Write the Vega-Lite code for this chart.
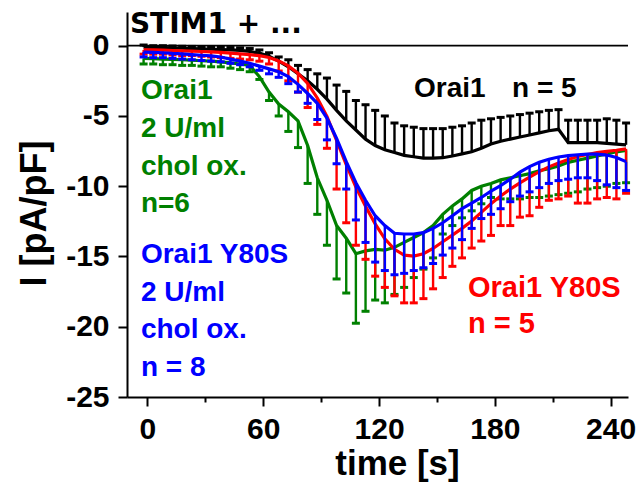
{
  "$schema": "https://vega.github.io/schema/vega-lite/v6.json",
  "width": 501,
  "height": 385,
  "autosize": {"type": "none"},
  "padding": {"left": 127, "top": 12, "right": 11, "bottom": 86},
  "background": "white",
  "config": {"view": {"stroke": null}, "font": "Liberation Sans"},
  "datasets": {
    "currents": [
      {"group":"Orai1","t":-2,"mean":-0.1,"bar_end":0.05},
      {"group":"Orai1","t":3,"mean":-0.12,"bar_end":0.0},
      {"group":"Orai1","t":8,"mean":-0.14,"bar_end":0.0},
      {"group":"Orai1","t":13,"mean":-0.15,"bar_end":-0.02},
      {"group":"Orai1","t":18,"mean":-0.18,"bar_end":-0.04},
      {"group":"Orai1","t":23,"mean":-0.2,"bar_end":-0.05},
      {"group":"Orai1","t":28,"mean":-0.23,"bar_end":-0.08},
      {"group":"Orai1","t":33,"mean":-0.25,"bar_end":-0.1},
      {"group":"Orai1","t":38,"mean":-0.28,"bar_end":-0.1},
      {"group":"Orai1","t":43,"mean":-0.3,"bar_end":-0.13},
      {"group":"Orai1","t":48,"mean":-0.33,"bar_end":-0.15},
      {"group":"Orai1","t":53,"mean":-0.4,"bar_end":-0.2},
      {"group":"Orai1","t":58,"mean":-0.53,"bar_end":-0.3},
      {"group":"Orai1","t":63,"mean":-0.75,"bar_end":-0.5},
      {"group":"Orai1","t":68,"mean":-1.1,"bar_end":-0.8},
      {"group":"Orai1","t":73,"mean":-1.5,"bar_end":-1.0},
      {"group":"Orai1","t":78,"mean":-2.0,"bar_end":-1.4},
      {"group":"Orai1","t":83,"mean":-2.5,"bar_end":-1.7},
      {"group":"Orai1","t":88,"mean":-3.1,"bar_end":-2.0},
      {"group":"Orai1","t":93,"mean":-3.8,"bar_end":-2.3},
      {"group":"Orai1","t":98,"mean":-4.6,"bar_end":-2.8},
      {"group":"Orai1","t":103,"mean":-5.35,"bar_end":-3.25},
      {"group":"Orai1","t":108,"mean":-6.0,"bar_end":-3.9},
      {"group":"Orai1","t":113,"mean":-6.65,"bar_end":-4.2},
      {"group":"Orai1","t":118,"mean":-7.1,"bar_end":-4.6},
      {"group":"Orai1","t":123,"mean":-7.4,"bar_end":-5.0},
      {"group":"Orai1","t":128,"mean":-7.6,"bar_end":-5.5},
      {"group":"Orai1","t":133,"mean":-7.8,"bar_end":-5.7},
      {"group":"Orai1","t":138,"mean":-7.9,"bar_end":-5.8},
      {"group":"Orai1","t":143,"mean":-8.0,"bar_end":-5.9},
      {"group":"Orai1","t":148,"mean":-8.0,"bar_end":-5.9},
      {"group":"Orai1","t":153,"mean":-7.97,"bar_end":-5.9},
      {"group":"Orai1","t":158,"mean":-7.85,"bar_end":-5.8},
      {"group":"Orai1","t":163,"mean":-7.7,"bar_end":-5.7},
      {"group":"Orai1","t":168,"mean":-7.55,"bar_end":-5.5},
      {"group":"Orai1","t":173,"mean":-7.3,"bar_end":-5.3},
      {"group":"Orai1","t":178,"mean":-7.0,"bar_end":-5.2},
      {"group":"Orai1","t":183,"mean":-6.8,"bar_end":-5.1},
      {"group":"Orai1","t":188,"mean":-6.65,"bar_end":-5.0},
      {"group":"Orai1","t":193,"mean":-6.5,"bar_end":-4.9},
      {"group":"Orai1","t":198,"mean":-6.35,"bar_end":-4.8},
      {"group":"Orai1","t":203,"mean":-6.2,"bar_end":-4.7},
      {"group":"Orai1","t":208,"mean":-6.05,"bar_end":-4.6},
      {"group":"Orai1","t":213,"mean":-5.95,"bar_end":-4.55},
      {"group":"Orai1","t":218,"mean":-6.9,"bar_end":-5.3},
      {"group":"Orai1","t":223,"mean":-6.9,"bar_end":-5.3},
      {"group":"Orai1","t":228,"mean":-6.9,"bar_end":-5.3},
      {"group":"Orai1","t":233,"mean":-6.9,"bar_end":-5.3},
      {"group":"Orai1","t":238,"mean":-6.95,"bar_end":-5.2},
      {"group":"Orai1","t":243,"mean":-7.0,"bar_end":-5.3},
      {"group":"Orai1","t":248,"mean":-7.05,"bar_end":-5.5},

      {"group":"Orai1 + chol ox.","t":-2,"mean":-0.9,"bar_end":-1.3},
      {"group":"Orai1 + chol ox.","t":3,"mean":-0.92,"bar_end":-1.3},
      {"group":"Orai1 + chol ox.","t":8,"mean":-0.95,"bar_end":-1.35},
      {"group":"Orai1 + chol ox.","t":13,"mean":-0.97,"bar_end":-1.35},
      {"group":"Orai1 + chol ox.","t":18,"mean":-1.0,"bar_end":-1.4},
      {"group":"Orai1 + chol ox.","t":23,"mean":-1.03,"bar_end":-1.4},
      {"group":"Orai1 + chol ox.","t":28,"mean":-1.07,"bar_end":-1.45},
      {"group":"Orai1 + chol ox.","t":33,"mean":-1.1,"bar_end":-1.5},
      {"group":"Orai1 + chol ox.","t":38,"mean":-1.15,"bar_end":-1.5},
      {"group":"Orai1 + chol ox.","t":43,"mean":-1.22,"bar_end":-1.6},
      {"group":"Orai1 + chol ox.","t":48,"mean":-1.3,"bar_end":-1.7},
      {"group":"Orai1 + chol ox.","t":53,"mean":-1.4,"bar_end":-1.85},
      {"group":"Orai1 + chol ox.","t":58,"mean":-2.2,"bar_end":-2.4},
      {"group":"Orai1 + chol ox.","t":63,"mean":-3.3,"bar_end":-3.9},
      {"group":"Orai1 + chol ox.","t":68,"mean":-4.15,"bar_end":-5.0},
      {"group":"Orai1 + chol ox.","t":73,"mean":-4.7,"bar_end":-6.1},
      {"group":"Orai1 + chol ox.","t":78,"mean":-5.35,"bar_end":-7.25},
      {"group":"Orai1 + chol ox.","t":83,"mean":-7.1,"bar_end":-9.8},
      {"group":"Orai1 + chol ox.","t":88,"mean":-9.4,"bar_end":-12.0},
      {"group":"Orai1 + chol ox.","t":93,"mean":-11.0,"bar_end":-14.2},
      {"group":"Orai1 + chol ox.","t":98,"mean":-12.8,"bar_end":-16.6},
      {"group":"Orai1 + chol ox.","t":103,"mean":-13.7,"bar_end":-17.6},
      {"group":"Orai1 + chol ox.","t":108,"mean":-14.8,"bar_end":-19.75},
      {"group":"Orai1 + chol ox.","t":113,"mean":-14.6,"bar_end":-18.9},
      {"group":"Orai1 + chol ox.","t":118,"mean":-14.5,"bar_end":-18.1},
      {"group":"Orai1 + chol ox.","t":123,"mean":-14.55,"bar_end":-18.3},
      {"group":"Orai1 + chol ox.","t":128,"mean":-14.35,"bar_end":-17.7},
      {"group":"Orai1 + chol ox.","t":133,"mean":-14.0,"bar_end":-17.2},
      {"group":"Orai1 + chol ox.","t":138,"mean":-13.65,"bar_end":-16.5},
      {"group":"Orai1 + chol ox.","t":143,"mean":-13.3,"bar_end":-15.9},
      {"group":"Orai1 + chol ox.","t":148,"mean":-12.8,"bar_end":-15.1},
      {"group":"Orai1 + chol ox.","t":153,"mean":-12.0,"bar_end":-13.4},
      {"group":"Orai1 + chol ox.","t":158,"mean":-11.4,"bar_end":-12.8},
      {"group":"Orai1 + chol ox.","t":163,"mean":-10.9,"bar_end":-12.25},
      {"group":"Orai1 + chol ox.","t":168,"mean":-10.3,"bar_end":-11.75},
      {"group":"Orai1 + chol ox.","t":173,"mean":-10.0,"bar_end":-11.25},
      {"group":"Orai1 + chol ox.","t":178,"mean":-9.8,"bar_end":-10.8},
      {"group":"Orai1 + chol ox.","t":183,"mean":-9.55,"bar_end":-10.9},
      {"group":"Orai1 + chol ox.","t":188,"mean":-9.4,"bar_end":-10.9},
      {"group":"Orai1 + chol ox.","t":193,"mean":-9.25,"bar_end":-10.9},
      {"group":"Orai1 + chol ox.","t":198,"mean":-9.1,"bar_end":-10.8},
      {"group":"Orai1 + chol ox.","t":203,"mean":-8.9,"bar_end":-10.8},
      {"group":"Orai1 + chol ox.","t":208,"mean":-8.75,"bar_end":-10.7},
      {"group":"Orai1 + chol ox.","t":213,"mean":-8.55,"bar_end":-10.6},
      {"group":"Orai1 + chol ox.","t":218,"mean":-8.3,"bar_end":-10.5},
      {"group":"Orai1 + chol ox.","t":223,"mean":-8.15,"bar_end":-10.4},
      {"group":"Orai1 + chol ox.","t":228,"mean":-8.0,"bar_end":-10.2},
      {"group":"Orai1 + chol ox.","t":233,"mean":-7.85,"bar_end":-10.1},
      {"group":"Orai1 + chol ox.","t":238,"mean":-7.7,"bar_end":-10.0},
      {"group":"Orai1 + chol ox.","t":243,"mean":-7.55,"bar_end":-9.8},
      {"group":"Orai1 + chol ox.","t":248,"mean":-7.45,"bar_end":-9.75},

      {"group":"Orai1 Y80S","t":-2,"mean":-0.3,"bar_end":-0.6},
      {"group":"Orai1 Y80S","t":3,"mean":-0.3,"bar_end":-0.6},
      {"group":"Orai1 Y80S","t":8,"mean":-0.31,"bar_end":-0.6},
      {"group":"Orai1 Y80S","t":13,"mean":-0.34,"bar_end":-0.65},
      {"group":"Orai1 Y80S","t":18,"mean":-0.37,"bar_end":-0.7},
      {"group":"Orai1 Y80S","t":23,"mean":-0.39,"bar_end":-0.7},
      {"group":"Orai1 Y80S","t":28,"mean":-0.41,"bar_end":-0.75},
      {"group":"Orai1 Y80S","t":33,"mean":-0.44,"bar_end":-0.8},
      {"group":"Orai1 Y80S","t":38,"mean":-0.48,"bar_end":-0.85},
      {"group":"Orai1 Y80S","t":43,"mean":-0.53,"bar_end":-0.9},
      {"group":"Orai1 Y80S","t":48,"mean":-0.58,"bar_end":-0.95},
      {"group":"Orai1 Y80S","t":53,"mean":-0.63,"bar_end":-1.0},
      {"group":"Orai1 Y80S","t":58,"mean":-0.71,"bar_end":-1.1},
      {"group":"Orai1 Y80S","t":63,"mean":-0.84,"bar_end":-1.3},
      {"group":"Orai1 Y80S","t":68,"mean":-1.08,"bar_end":-1.8},
      {"group":"Orai1 Y80S","t":73,"mean":-1.44,"bar_end":-2.5},
      {"group":"Orai1 Y80S","t":78,"mean":-1.96,"bar_end":-3.3},
      {"group":"Orai1 Y80S","t":83,"mean":-2.68,"bar_end":-4.4},
      {"group":"Orai1 Y80S","t":88,"mean":-3.72,"bar_end":-5.6},
      {"group":"Orai1 Y80S","t":93,"mean":-5.04,"bar_end":-7.3},
      {"group":"Orai1 Y80S","t":98,"mean":-6.74,"bar_end":-10.2},
      {"group":"Orai1 Y80S","t":103,"mean":-8.46,"bar_end":-12.6},
      {"group":"Orai1 Y80S","t":108,"mean":-10.06,"bar_end":-14.2},
      {"group":"Orai1 Y80S","t":113,"mean":-11.42,"bar_end":-15.2},
      {"group":"Orai1 Y80S","t":118,"mean":-12.68,"bar_end":-16.4},
      {"group":"Orai1 Y80S","t":123,"mean":-13.74,"bar_end":-17.2},
      {"group":"Orai1 Y80S","t":128,"mean":-14.49,"bar_end":-17.8},
      {"group":"Orai1 Y80S","t":133,"mean":-14.9,"bar_end":-18.3},
      {"group":"Orai1 Y80S","t":138,"mean":-14.97,"bar_end":-18.3},
      {"group":"Orai1 Y80S","t":143,"mean":-14.8,"bar_end":-18.0},
      {"group":"Orai1 Y80S","t":148,"mean":-14.43,"bar_end":-17.3},
      {"group":"Orai1 Y80S","t":153,"mean":-13.95,"bar_end":-16.5},
      {"group":"Orai1 Y80S","t":158,"mean":-13.48,"bar_end":-15.7},
      {"group":"Orai1 Y80S","t":163,"mean":-13.0,"bar_end":-15.1},
      {"group":"Orai1 Y80S","t":168,"mean":-12.47,"bar_end":-14.4},
      {"group":"Orai1 Y80S","t":173,"mean":-11.86,"bar_end":-13.9},
      {"group":"Orai1 Y80S","t":178,"mean":-11.24,"bar_end":-13.5},
      {"group":"Orai1 Y80S","t":183,"mean":-10.7,"bar_end":-12.8},
      {"group":"Orai1 Y80S","t":188,"mean":-10.2,"bar_end":-12.8},
      {"group":"Orai1 Y80S","t":193,"mean":-9.76,"bar_end":-12.2},
      {"group":"Orai1 Y80S","t":198,"mean":-9.36,"bar_end":-12.1},
      {"group":"Orai1 Y80S","t":203,"mean":-8.96,"bar_end":-11.5},
      {"group":"Orai1 Y80S","t":208,"mean":-8.62,"bar_end":-11.0},
      {"group":"Orai1 Y80S","t":213,"mean":-8.35,"bar_end":-10.9},
      {"group":"Orai1 Y80S","t":218,"mean":-8.1,"bar_end":-10.7},
      {"group":"Orai1 Y80S","t":223,"mean":-7.88,"bar_end":-11.2},
      {"group":"Orai1 Y80S","t":228,"mean":-7.74,"bar_end":-11.2},
      {"group":"Orai1 Y80S","t":233,"mean":-7.61,"bar_end":-10.9},
      {"group":"Orai1 Y80S","t":238,"mean":-7.52,"bar_end":-10.8},
      {"group":"Orai1 Y80S","t":243,"mean":-7.44,"bar_end":-10.9},
      {"group":"Orai1 Y80S","t":248,"mean":-7.34,"bar_end":-10.5},

      {"group":"Orai1 Y80S + chol ox.","t":-2,"mean":-0.45,"bar_end":-0.8},
      {"group":"Orai1 Y80S + chol ox.","t":3,"mean":-0.47,"bar_end":-0.85},
      {"group":"Orai1 Y80S + chol ox.","t":8,"mean":-0.5,"bar_end":-0.85},
      {"group":"Orai1 Y80S + chol ox.","t":13,"mean":-0.55,"bar_end":-0.9},
      {"group":"Orai1 Y80S + chol ox.","t":18,"mean":-0.58,"bar_end":-0.95},
      {"group":"Orai1 Y80S + chol ox.","t":23,"mean":-0.63,"bar_end":-1.0},
      {"group":"Orai1 Y80S + chol ox.","t":28,"mean":-0.68,"bar_end":-1.05},
      {"group":"Orai1 Y80S + chol ox.","t":33,"mean":-0.72,"bar_end":-1.1},
      {"group":"Orai1 Y80S + chol ox.","t":38,"mean":-0.8,"bar_end":-1.15},
      {"group":"Orai1 Y80S + chol ox.","t":43,"mean":-0.95,"bar_end":-1.25},
      {"group":"Orai1 Y80S + chol ox.","t":48,"mean":-1.1,"bar_end":-1.35},
      {"group":"Orai1 Y80S + chol ox.","t":53,"mean":-1.25,"bar_end":-1.5},
      {"group":"Orai1 Y80S + chol ox.","t":58,"mean":-1.45,"bar_end":-1.75},
      {"group":"Orai1 Y80S + chol ox.","t":63,"mean":-1.65,"bar_end":-2.0},
      {"group":"Orai1 Y80S + chol ox.","t":68,"mean":-1.85,"bar_end":-2.25},
      {"group":"Orai1 Y80S + chol ox.","t":73,"mean":-2.2,"bar_end":-2.7},
      {"group":"Orai1 Y80S + chol ox.","t":78,"mean":-2.75,"bar_end":-3.3},
      {"group":"Orai1 Y80S + chol ox.","t":83,"mean":-3.4,"bar_end":-4.1},
      {"group":"Orai1 Y80S + chol ox.","t":88,"mean":-4.1,"bar_end":-5.25},
      {"group":"Orai1 Y80S + chol ox.","t":93,"mean":-5.15,"bar_end":-6.7},
      {"group":"Orai1 Y80S + chol ox.","t":98,"mean":-6.6,"bar_end":-8.4},
      {"group":"Orai1 Y80S + chol ox.","t":103,"mean":-8.25,"bar_end":-10.2},
      {"group":"Orai1 Y80S + chol ox.","t":108,"mean":-9.75,"bar_end":-12.4},
      {"group":"Orai1 Y80S + chol ox.","t":113,"mean":-11.0,"bar_end":-14.0},
      {"group":"Orai1 Y80S + chol ox.","t":118,"mean":-12.1,"bar_end":-15.4},
      {"group":"Orai1 Y80S + chol ox.","t":123,"mean":-12.8,"bar_end":-16.0},
      {"group":"Orai1 Y80S + chol ox.","t":128,"mean":-13.35,"bar_end":-16.3},
      {"group":"Orai1 Y80S + chol ox.","t":133,"mean":-13.4,"bar_end":-16.2},
      {"group":"Orai1 Y80S + chol ox.","t":138,"mean":-13.4,"bar_end":-16.0},
      {"group":"Orai1 Y80S + chol ox.","t":143,"mean":-13.3,"bar_end":-15.8},
      {"group":"Orai1 Y80S + chol ox.","t":148,"mean":-13.0,"bar_end":-15.5},
      {"group":"Orai1 Y80S + chol ox.","t":153,"mean":-12.6,"bar_end":-14.9},
      {"group":"Orai1 Y80S + chol ox.","t":158,"mean":-12.1,"bar_end":-14.4},
      {"group":"Orai1 Y80S + chol ox.","t":163,"mean":-11.6,"bar_end":-13.8},
      {"group":"Orai1 Y80S + chol ox.","t":168,"mean":-11.2,"bar_end":-13.0},
      {"group":"Orai1 Y80S + chol ox.","t":173,"mean":-10.8,"bar_end":-12.3},
      {"group":"Orai1 Y80S + chol ox.","t":178,"mean":-10.35,"bar_end":-12.0},
      {"group":"Orai1 Y80S + chol ox.","t":183,"mean":-9.95,"bar_end":-11.6},
      {"group":"Orai1 Y80S + chol ox.","t":188,"mean":-9.5,"bar_end":-11.1},
      {"group":"Orai1 Y80S + chol ox.","t":193,"mean":-9.0,"bar_end":-10.7},
      {"group":"Orai1 Y80S + chol ox.","t":198,"mean":-8.6,"bar_end":-10.4},
      {"group":"Orai1 Y80S + chol ox.","t":203,"mean":-8.3,"bar_end":-10.1},
      {"group":"Orai1 Y80S + chol ox.","t":208,"mean":-8.08,"bar_end":-9.8},
      {"group":"Orai1 Y80S + chol ox.","t":213,"mean":-7.92,"bar_end":-9.6},
      {"group":"Orai1 Y80S + chol ox.","t":218,"mean":-7.82,"bar_end":-9.5},
      {"group":"Orai1 Y80S + chol ox.","t":223,"mean":-7.76,"bar_end":-9.4},
      {"group":"Orai1 Y80S + chol ox.","t":228,"mean":-7.72,"bar_end":-9.4},
      {"group":"Orai1 Y80S + chol ox.","t":233,"mean":-7.72,"bar_end":-9.6},
      {"group":"Orai1 Y80S + chol ox.","t":238,"mean":-7.78,"bar_end":-9.9},
      {"group":"Orai1 Y80S + chol ox.","t":243,"mean":-7.95,"bar_end":-10.1},
      {"group":"Orai1 Y80S + chol ox.","t":248,"mean":-8.25,"bar_end":-10.3}
    ],
    "anchor": [{}]
  },
  "layer": [
    {
      "data": {"name": "currents"},
      "encoding": {
        "x": {
          "field": "t", "type": "quantitative",
          "scale": {"domain": [-10.6, 249], "nice": false, "zero": false},
          "axis": {
            "title": "time [s]",
            "values": [0, 30, 60, 90, 120, 150, 180, 210, 240],
            "labelExpr": "datum.value % 60 === 0 ? '' + datum.value : ''",
            "grid": false,
            "domainColor": "black", "domainWidth": 2,
            "tickColor": "black", "tickWidth": 2,
            "tickSize": {"condition": {"test": "datum.value % 60 === 0", "value": 9}, "value": 5},
            "labelFont": "Liberation Sans", "labelFontWeight": "bold", "labelFontSize": 30,
            "labelColor": "black", "labelPadding": 8, "labelFlush": false, "labelOverlap": false,
            "titleFont": "Liberation Sans", "titleFontWeight": "bold", "titleFontSize": 35,
            "titleColor": "black", "titleX": 270, "titleY": 49, "titleBaseline": "top"
          }
        },
        "y": {
          "field": "mean", "type": "quantitative",
          "scale": {"domain": [-25, 2.4], "nice": false, "zero": false},
          "axis": {
            "title": "I [pA/pF]",
            "values": [-25, -22.5, -20, -17.5, -15, -12.5, -10, -7.5, -5, -2.5, 0],
            "labelExpr": "datum.value % 5 === 0 ? '' + datum.value : ''",
            "grid": false,
            "domainColor": "black", "domainWidth": 2,
            "tickColor": "black", "tickWidth": 2,
            "tickSize": {"condition": {"test": "datum.value % 5 === 0", "value": 9}, "value": 5},
            "labelFont": "Liberation Sans", "labelFontWeight": "bold", "labelFontSize": 30,
            "labelColor": "black", "labelPadding": 9, "labelFlush": false, "labelOverlap": false,
            "titleFont": "Liberation Sans", "titleFontWeight": "bold", "titleFontSize": 36,
            "titleColor": "black", "titleX": -82, "titleY": 201, "titleBaseline": "alphabetic"
          }
        },
        "color": {
          "field": "group", "type": "nominal", "legend": null,
          "scale": {
            "domain": ["Orai1", "Orai1 + chol ox.", "Orai1 Y80S", "Orai1 Y80S + chol ox."],
            "range": ["#000000", "#008000", "#ff0000", "#0000ff"]
          }
        }
      },
      "layer": [
        {
          "transform": [{"filter": "datum.group === 'Orai1'"}],
          "layer": [
            {"mark": {"type": "rule", "strokeWidth": 2.4}, "encoding": {"y2": {"field": "bar_end"}}},
            {"mark": {"type": "tick", "orient": "horizontal", "size": 8, "thickness": 3, "opacity": 1},
             "encoding": {"y": {"field": "bar_end", "type": "quantitative"}}},
            {"mark": {"type": "line", "strokeWidth": 3.2}}
          ]
        },
        {
          "transform": [{"filter": "datum.group === 'Orai1 + chol ox.'"}],
          "layer": [
            {"mark": {"type": "rule", "strokeWidth": 2.4}, "encoding": {"y2": {"field": "bar_end"}}},
            {"mark": {"type": "tick", "orient": "horizontal", "size": 8, "thickness": 3, "opacity": 1},
             "encoding": {"y": {"field": "bar_end", "type": "quantitative"}}},
            {"mark": {"type": "line", "strokeWidth": 3.2}}
          ]
        },
        {
          "transform": [{"filter": "datum.group === 'Orai1 Y80S'"}],
          "layer": [
            {"mark": {"type": "rule", "strokeWidth": 2.4}, "encoding": {"y2": {"field": "bar_end"}}},
            {"mark": {"type": "tick", "orient": "horizontal", "size": 8, "thickness": 3, "opacity": 1},
             "encoding": {"y": {"field": "bar_end", "type": "quantitative"}}},
            {"mark": {"type": "line", "strokeWidth": 3.2}}
          ]
        },
        {
          "transform": [{"filter": "datum.group === 'Orai1 Y80S + chol ox.'"}],
          "layer": [
            {"mark": {"type": "rule", "strokeWidth": 2.4}, "encoding": {"y2": {"field": "bar_end"}}},
            {"mark": {"type": "tick", "orient": "horizontal", "size": 8, "thickness": 3, "opacity": 1},
             "encoding": {"y": {"field": "bar_end", "type": "quantitative"}}},
            {"mark": {"type": "line", "strokeWidth": 3.2}}
          ]
        }
      ]
    },
    {
      "data": {"name": "anchor"},
      "mark": {"type": "rule", "color": "black", "strokeWidth": 1.8},
      "encoding": {"y": {"datum": 0, "type": "quantitative"}}
    },
    {
      "data": {"name": "anchor"},
      "mark": {"type": "text", "align": "left", "baseline": "alphabetic", "font": "DejaVu Sans", "fontWeight": "bold", "fontSize": 28, "color": "black"},
      "encoding": {
        "x": {"datum": -9.1, "type": "quantitative"},
        "y": {"datum": 0.9, "type": "quantitative"},
        "text": {"value": "STIM1 + ..."}
      }
    },
    {
      "data": {"name": "anchor"},
      "mark": {"type": "text", "align": "left", "baseline": "alphabetic", "font": "Liberation Sans", "fontWeight": "bold", "fontSize": 28, "color": "black"},
      "encoding": {
        "x": {"datum": 138.1, "type": "quantitative"},
        "y": {"datum": -3.65, "type": "quantitative"},
        "text": {"value": "Orai1"}
      }
    },
    {
      "data": {"name": "anchor"},
      "mark": {"type": "text", "align": "left", "baseline": "alphabetic", "font": "Liberation Sans", "fontWeight": "bold", "fontSize": 28, "color": "black"},
      "encoding": {
        "x": {"datum": 188.9, "type": "quantitative"},
        "y": {"datum": -3.65, "type": "quantitative"},
        "text": {"value": "n = 5"}
      }
    },
    {
      "data": {"name": "anchor"},
      "mark": {"type": "text", "align": "left", "baseline": "alphabetic", "font": "Liberation Sans", "fontWeight": "bold", "fontSize": 28, "color": "#008000", "lineHeight": 37.7},
      "encoding": {
        "x": {"datum": -3.4, "type": "quantitative"},
        "y": {"datum": -3.8, "type": "quantitative"},
        "text": {"value": ["Orai1", "2 U/ml", "chol ox.", "n=6"]}
      }
    },
    {
      "data": {"name": "anchor"},
      "mark": {"type": "text", "align": "left", "baseline": "alphabetic", "font": "Liberation Sans", "fontWeight": "bold", "fontSize": 28, "color": "#0000ff", "lineHeight": 37.5},
      "encoding": {
        "x": {"datum": -3.4, "type": "quantitative"},
        "y": {"datum": -15.47, "type": "quantitative"},
        "text": {"value": ["Orai1 Y80S", "2 U/ml", "chol ox.", "n = 8"]}
      }
    },
    {
      "data": {"name": "anchor"},
      "mark": {"type": "text", "align": "left", "baseline": "alphabetic", "font": "Liberation Sans", "fontWeight": "bold", "fontSize": 29, "color": "#ff0000", "lineHeight": 36},
      "encoding": {
        "x": {"datum": 166.1, "type": "quantitative"},
        "y": {"datum": -17.9, "type": "quantitative"},
        "text": {"value": ["Orai1 Y80S", "n = 5"]}
      }
    }
  ]
}
